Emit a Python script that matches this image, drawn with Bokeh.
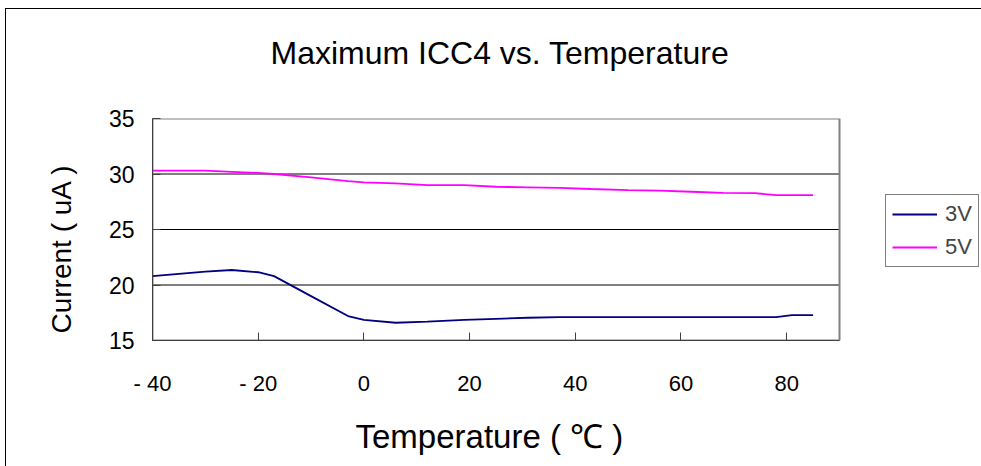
from bokeh.plotting import figure
from bokeh.models import Range1d, FixedTicker, Legend, LegendItem, Title, LinearAxis
from bokeh.embed import file_html
from bokeh.resources import INLINE

# ---- data ----
temps = [-40, -35, -30, -25, -20, -17, -10, -3, 0, 6, 12, 19, 25, 31, 37, 43, 50, 56, 62, 68, 74, 78, 81, 85]
icc_3v = [20.8, 21.0, 21.2, 21.35, 21.15, 20.8, 19.0, 17.2, 16.85, 16.6, 16.7, 16.85, 16.95, 17.05, 17.1,
          17.1, 17.1, 17.1, 17.1, 17.1, 17.1, 17.1, 17.28, 17.28]
icc_5v = [30.3, 30.3, 30.3, 30.2, 30.1, 30.0, 29.7, 29.35, 29.25, 29.15, 29.0, 29.0, 28.85, 28.8, 28.75,
          28.65, 28.55, 28.5, 28.4, 28.3, 28.27, 28.1, 28.1, 28.1]
series_names = ["3V", "5V"]
series_colors = ["#000080", "#FF00FF"]
x_ticks = [-40, -20, 0, 20, 40, 60, 80]
x_tick_labels = ["- 40", "- 20", "0", "20", "40", "60", "80"]
y_ticks = [15, 20, 25, 30, 35]
grid_y = [20, 25, 30]
x_min, x_max = -40, 90
y_min, y_max = 15, 35

FONT = "Liberation Sans"

# plot-area geometry (pixels); the frame extends to the right edge so the legend can sit beside the plot area
PLOT_W = 687
FRAME_W = 829
FRAME_H = 222
x_end = x_min + (x_max - x_min) * FRAME_W / PLOT_W

p = figure(frame_width=FRAME_W, frame_height=FRAME_H, output_backend="svg", toolbar_location=None,
           title=None,
           x_range=Range1d(x_min, x_end), y_range=Range1d(y_min, y_max),
           min_border_left=146, min_border_right=0, min_border_top=109, min_border_bottom=125)
p.styles = {"border-top": "1px solid #000000", "border-left": "1px solid #000000",
            "margin-left": "5px", "margin-top": "8px"}

p.outline_line_color = None
p.background_fill_color = "white"
p.border_fill_color = "white"

xax = p.below[0]
yax = p.left[0]

# invisible spacer above the plot area (gives the gap under the title), then the chart title
spacer = LinearAxis(ticker=FixedTicker(ticks=[x_min]), major_label_overrides={x_min: " "},
                    axis_line_color=None, major_tick_line_color=None, minor_tick_line_color=None,
                    major_tick_out=39, major_tick_in=0, minor_tick_out=0, minor_tick_in=0,
                    major_label_standoff=0, major_label_text_font_size="1px")
p.add_layout(spacer, "above")
main_title = Title(text="Maximum ICC4 vs. Temperature", align="left", offset=118, standoff=10,
                   text_font=FONT, text_font_size="32px", text_font_style="normal", text_color="black")
p.add_layout(main_title, "above")

# axes
xax.ticker = FixedTicker(ticks=x_ticks)
xax.major_label_overrides = {t: l for t, l in zip(x_ticks, x_tick_labels)}
xax.bounds = (x_min, x_max)
yax.ticker = FixedTicker(ticks=y_ticks)
for ax in (xax, yax):
    ax.major_tick_in = 8
    ax.major_tick_out = 0
    ax.minor_tick_in = 0
    ax.minor_tick_out = 0
    ax.axis_line_color = "#404040"
    ax.major_tick_line_color = "#404040"
    ax.major_label_text_font = FONT
    ax.major_label_text_color = "black"
xax.major_label_text_font_size = "22px"
yax.major_label_text_font_size = "23px"
xax.major_label_standoff = 30
yax.major_label_standoff = 18

# axis titles as Title annotations so they can be positioned like the reference
x_title = Title(text="Temperature ( ℃ )", align="left", offset=203, standoff=34,
                text_font=FONT, text_font_size="33px", text_font_style="normal", text_color="black")
p.add_layout(x_title, "below")
y_title = Title(text="Current ( uA )", align="left", offset=7, standoff=58,
                text_font=FONT, text_font_size="28px", text_font_style="normal", text_color="black")
p.add_layout(y_title, "left")

p.xgrid.grid_line_color = None
p.ygrid.grid_line_color = None

# horizontal grid lines and plot-area border
p.segment(x0=[x_min] * len(grid_y), y0=grid_y, x1=[x_max] * len(grid_y), y1=grid_y,
          line_color="black", line_width=1)
p.quad(left=[x_min], right=[x_max], bottom=[y_min], top=[y_max],
       fill_color=None, line_color="#808080", line_width=2)

r3 = p.line(temps, icc_3v, line_color=series_colors[0], line_width=1.8)
r5 = p.line(temps, icc_5v, line_color=series_colors[1], line_width=1.8)

legend = Legend(items=[LegendItem(label=series_names[0], renderers=[r3]),
                       LegendItem(label=series_names[1], renderers=[r5])],
                location=(733, 73))
legend.label_text_font = FONT
legend.label_text_font_size = "22px"
legend.glyph_width = 45
legend.glyph_height = 20
legend.label_height = 20
legend.label_standoff = 8
legend.spacing = 7
legend.padding = 6
legend.margin = 0
legend.border_line_color = "black"
legend.border_line_width = 1
legend.background_fill_alpha = 1
p.add_layout(legend, "center")

open("out.html", "w").write(file_html(p, INLINE))
